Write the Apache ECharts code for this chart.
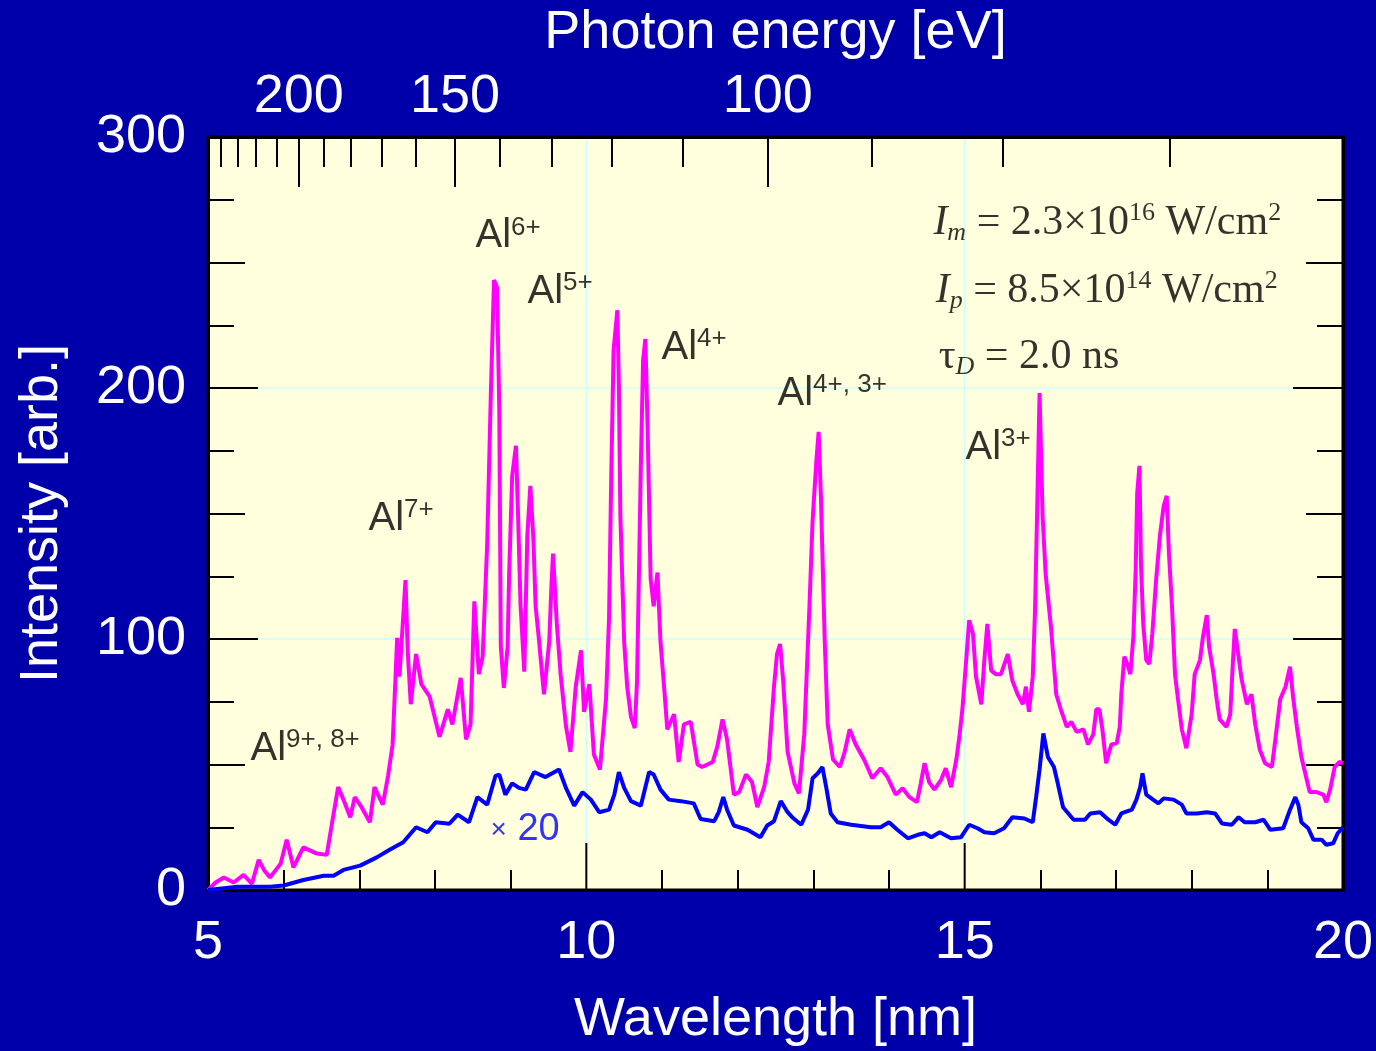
<!DOCTYPE html>
<html>
<head>
<meta charset="utf-8">
<title>Al spectrum</title>
<script src="https://cdn.jsdelivr.net/npm/echarts@6/dist/echarts.min.js"></script>
<style>
  html, body { margin: 0; padding: 0; background: #0000aa; }
  #main { width: 1376px; height: 1051px; }
</style>
</head>
<body>
<div id="main"></div>
<script>
// wavelength (nm) / intensity
const pinkWl = [5.00,5.10,5.21,5.34,5.47,5.58,5.67,5.74,5.82,5.96,6.04,6.13,6.26,6.44,6.57,6.63,6.72,6.79,6.88,6.94,
  7.03,7.14,7.20,7.31,7.38,7.44,7.47,7.50,7.53,7.57,7.61,7.64,7.68,7.75,7.82,7.93,8.06,8.17,8.23,8.34,
  8.41,8.47,8.52,8.58,8.63,8.69,8.74,8.78,8.82,8.85,8.87,8.91,8.96,8.98,9.02,9.07,9.10,9.13,9.18,9.22,
  9.26,9.30,9.33,9.37,9.44,9.51,9.54,9.56,9.61,9.66,9.73,9.79,9.86,9.93,9.97,10.04,10.10,10.18,10.26,10.30,
  10.33,10.36,10.41,10.43,10.45,10.50,10.54,10.59,10.64,10.67,10.72,10.75,10.78,10.81,10.85,10.89,10.94,10.98,11.03,11.07,
  11.16,11.22,11.29,11.38,11.47,11.53,11.67,11.73,11.80,11.86,11.95,12.02,12.11,12.19,12.26,12.35,12.41,12.48,12.52,12.56,
  12.60,12.66,12.75,12.81,12.88,12.95,12.99,13.04,13.07,13.10,13.15,13.19,13.26,13.35,13.41,13.48,13.56,13.67,13.78,13.89,
  13.98,14.09,14.18,14.27,14.37,14.42,14.47,14.53,14.60,14.69,14.75,14.82,14.89,14.93,14.97,15.02,15.06,15.11,15.15,15.22,
  15.26,15.30,15.35,15.41,15.48,15.57,15.63,15.70,15.77,15.81,15.85,15.90,15.93,15.96,15.99,16.03,16.07,16.14,16.21,16.27,
  16.35,16.41,16.48,16.57,16.63,16.70,16.74,16.78,16.82,16.87,16.90,16.94,17.01,17.05,17.07,17.11,17.15,17.19,17.23,17.26,
  17.28,17.31,17.33,17.36,17.40,17.44,17.48,17.53,17.58,17.63,17.67,17.70,17.74,17.78,17.82,17.87,17.93,18.00,18.04,18.11,
  18.15,18.20,18.23,18.29,18.33,18.37,18.46,18.51,18.54,18.57,18.62,18.66,18.73,18.79,18.84,18.90,18.97,19.06,19.10,19.17,
  19.24,19.30,19.34,19.39,19.45,19.52,19.56,19.65,19.74,19.78,19.83,19.89,19.95,20.00];
const pinkInt = [0,3,5,3,6,2.5,12,8,5,10.5,20,9,17,14.5,14,25,41,36,29,37,
  33,27,41,34,45.5,58,79,100.5,85,104,123.5,95,74,94,82,77,61,72,66,84.5,
  60,66,115,86,93,138,200,243,240,191,97,80.5,97,126,165,177,147,114,87,141,
  161,140,113,101,78,99,122,134,106,86,65.5,55,81,95.5,71,82,54,48,76,108,
  166,215,231,202,149,99,81,69,64.5,83,168,211,219.5,184,124,113,126.5,99,80,64,
  70,51,66,67,50,49,51,57,68,60,38,39,46,43,33,41,51,81,94,98,
  84,55,42.5,38.5,62,114,147,171,182.5,157,100,66,52,49,54.5,64,58,52,44.5,48.5,
  45,38,40.5,37,35,42.5,50.5,43,40,44,48.5,41,52,61,72,91.5,107.5,102,85,74,
  91.5,106,87.5,86,86,94,83.5,78,74,81,71,85,111.5,154,198,149,126,105,78,72,
  65,67,63,64,58,62,72,72,64,50.5,54,58,58.5,65,78,93,90,86,101,127.5,
  158,169,130,106,91.6,90,102,123.5,141,153,157,134,113,86,76,64,56.5,70,86,91.6,
  101,109.5,97,86,76,68,65,70,88,104,93,84,74,78,66,56,50.5,49,58.5,76,
  81,89,77,65,53,44,39,39,38,35,40,49,51,50.5];

// blue trace, drawn x20
const blueWl = [5.00,5.39,5.82,6.00,6.26,6.53,6.66,6.79,7.01,7.23,7.40,7.58,7.75,7.90,8.01,8.19,8.30,8.45,8.56,8.69,
  8.80,8.85,8.93,9.02,9.11,9.20,9.31,9.46,9.64,9.73,9.84,9.95,10.06,10.17,10.30,10.37,10.43,10.50,10.59,10.72,
  10.83,10.89,10.98,11.09,11.25,11.42,11.51,11.69,11.75,11.81,11.86,11.95,12.13,12.30,12.39,12.48,12.57,12.66,12.72,12.84,
  12.93,12.99,13.06,13.12,13.17,13.23,13.32,13.50,13.76,13.89,14.00,14.11,14.25,14.38,14.47,14.56,14.67,14.82,14.95,15.06,
  15.17,15.26,15.39,15.52,15.63,15.79,15.90,15.94,15.99,16.04,16.10,16.18,16.23,16.30,16.44,16.59,16.66,16.79,16.90,16.99,
  17.07,17.21,17.27,17.32,17.35,17.40,17.49,17.56,17.63,17.76,17.87,17.93,18.07,18.20,18.31,18.40,18.53,18.62,18.70,18.84,
  18.95,19.04,19.21,19.30,19.37,19.41,19.45,19.54,19.61,19.72,19.78,19.87,19.93,20.00];
const blueInt = [0,1.3,1.3,1.8,4,5.7,5.7,8,9.7,13,16,19,25,23,27,26.4,30,27,37,34,
  45.5,46,38,42.5,40.7,40,47,45,48,40.7,33.6,39,36,31,32,38,47,40.7,35.4,33.6,
  47,46,40,36,35.4,34.5,28.3,27.4,31,37,32,25.7,24,21,25.7,27.4,35.4,31,29,26,
  32,44.5,46.5,49,41,30.5,27,26,25,25,27,24,20.6,22,22.6,21,23,20.6,21,26,
  24.6,23,22.6,24.6,29,28.5,27,36,48,62.4,53,49,42.5,33,28,28,30.5,31,28,26,
  30.5,32,36,41,46.5,38,36,34.5,36.5,36,34,30.5,30.5,31,30.5,26.5,26,29,27,27,
  28,24,24.6,32,37,34,27,24.6,20,20,18,18.6,22.6,25];

// tick and gridline positions
const xMinorTicks = [6, 7, 8, 9, 11, 12, 13, 14, 16, 17, 18, 19];
const xMajorTicks = [10, 15];
const yMinorTicks = [25, 75, 125, 175, 225, 275];
const yMidTicks = [50, 150, 250];
const yMajorTicks = [100, 200];

// top axis: photon energy (eV)
const HC = 1239.84;
const energyMajor = [200, 150, 100];
const energyMinor = [240, 230, 220, 210, 190, 180, 170, 160, 140, 130, 120, 110, 90, 80, 70];

// peak labels: [wavelength, intensity, text]
const ionLabels = [
  [5.555, 56.2, '{a|Al}{s|9+, 8+}'],
  [7.114, 147.8, '{a|Al}{s|7+}'],
  [8.528, 260.4, '{a|Al}{s|6+}'],
  [9.216, 238.2, '{a|Al}{s|5+}'],
  [10.987, 216.1, '{a|Al}{s|4+}'],
  [12.52, 197.6, '{a|Al}{s|4+, 3+}'],
  [15.004, 176.1, '{a|Al}{s|3+}'],
  [8.727, 23.9, '{x|×}{n| 20}']
];
const paramLabels = [
  [14.58, 265.7, '{i|I}{sub|m}{t| = 2.3×10}{sup|16}{t| W/cm}{sup|2}'],
  [14.61, 238.6, '{i|I}{sub|p}{t| = 8.5×10}{sup|14}{t| W/cm}{sup|2}'],
  [14.65, 212.4, '{t|τ}{sub|D}{t| = 2.0 ns}']
];

const X_MIN = 5, X_MAX = 20, Y_MIN = 0, Y_MAX = 300;
const MAJOR_X_LEN = 47, MAJOR_Y_LEN = 50;

const toWl = e => HC / e;
const zip = (xs, ys) => xs.map((x, i) => [x, ys[i]]);

const sans = 'Liberation Sans, Arial, sans-serif';
const serif = 'Liberation Serif, Times New Roman, serif';
const black = { color: '#000', width: 2 };
const axisText = { color: '#fff', fontSize: 54, fontFamily: sans };
const frameLine = { show: true, onZero: false, lineStyle: { color: '#000', width: 3 } };
const noLine = { show: false, onZero: false };
const off = { show: false };

// an axis that only carries a set of inward ticks
const tickAxis = (position, min, max, values, length, extra) => Object.assign({
  type: 'value', position, min, max, z: 3,
  axisLine: noLine,
  axisTick: { show: true, inside: true, length, lineStyle: black, customValues: values },
  axisLabel: off, splitLine: off
}, extra || {});

const option = {
  backgroundColor: '#0000aa',
  animation: false,
  grid: {
    left: 208, right: 33, top: 137, bottom: 161,
    containLabel: false, outerBoundsMode: 'none',
    show: true, backgroundColor: '#ffffdd', borderColor: '#000', borderWidth: 3
  },
  xAxis: [
    tickAxis('bottom', X_MIN, X_MAX, xMinorTicks, 20, {
      interval: 5,
      axisLine: frameLine,
      axisLabel: Object.assign({ show: true, margin: 26 }, axisText),
      name: 'Wavelength [nm]', nameLocation: 'middle', nameGap: 103, nameMoveOverlap: false,
      nameTextStyle: axisText
    }),
    tickAxis('top', X_MIN, X_MAX, energyMajor.map(toWl), 50, {
      axisLine: frameLine,
      axisLabel: Object.assign({
        show: true, margin: 13, customValues: energyMajor.map(toWl),
        formatter: v => String(Math.round(HC / v))
      }, axisText),
      name: 'Photon energy [eV]', nameLocation: 'middle', nameGap: 77, nameMoveOverlap: false,
      nameTextStyle: axisText
    }),
    tickAxis('top', X_MIN, X_MAX, energyMinor.map(toWl), 30)
  ],
  yAxis: [
    tickAxis('left', Y_MIN, Y_MAX, yMinorTicks, 26, {
      interval: 100,
      axisLine: frameLine,
      axisLabel: Object.assign({ show: true, margin: 22 }, axisText),
      name: 'Intensity [arb.]', nameLocation: 'middle', nameGap: 139, nameRotate: 90, nameMoveOverlap: false,
      nameTextStyle: axisText
    }),
    tickAxis('left', Y_MIN, Y_MAX, yMidTicks, 37),
    tickAxis('right', Y_MIN, Y_MAX, yMinorTicks, 26, { axisLine: frameLine }),
    tickAxis('right', Y_MIN, Y_MAX, yMidTicks, 37)
  ],
  series: [
    {
      type: 'line', data: zip(pinkWl, pinkInt), showSymbol: false,
      lineStyle: { color: '#ff00ff', width: 4 }, z: 4
    },
    {
      type: 'line', data: zip(blueWl, blueInt), showSymbol: false,
      lineStyle: { color: '#0000ff', width: 4 }, z: 5
    },
    {
      type: 'scatter', silent: true, symbolSize: 1, itemStyle: { color: 'transparent' }, z: 6,
      data: ionLabels.map(d => ({ value: [d[0], d[1]], name: d[2] })),
      label: {
        show: true, position: 'right', distance: 0, formatter: '{b}', color: '#000',
        rich: {
          a: { fontFamily: sans, fontSize: 40, lineHeight: 44, color: '#000' },
          s: { fontFamily: sans, fontSize: 26, lineHeight: 28, verticalAlign: 'top', color: '#000' },
          x: { fontFamily: sans, fontSize: 28, lineHeight: 40, color: '#0000ff' },
          n: { fontFamily: sans, fontSize: 38, lineHeight: 40, color: '#0000ff' }
        }
      }
    },
    {
      type: 'scatter', silent: true, symbolSize: 1, itemStyle: { color: 'transparent' }, z: 6,
      data: paramLabels.map(d => ({ value: [d[0], d[1]], name: d[2] })),
      label: {
        show: true, position: 'right', distance: 0, formatter: '{b}', color: '#000',
        rich: {
          t: { fontFamily: serif, fontSize: 42, lineHeight: 46, color: '#000' },
          i: { fontFamily: serif, fontSize: 42, lineHeight: 46, fontStyle: 'italic', color: '#000' },
          sub: { fontFamily: serif, fontSize: 26, lineHeight: 10, fontStyle: 'italic', verticalAlign: 'bottom', color: '#000' },
          sup: { fontFamily: serif, fontSize: 26, lineHeight: 10, verticalAlign: 'top', color: '#000' }
        }
      }
    }
  ]
};

const chartDom = document.getElementById('main');
const myChart = echarts.init(chartDom);
myChart.setOption(option);

// gridlines and the long ticks, placed through the chart's own scales
const px = (x, y) => myChart.convertToPixel({ xAxisIndex: 0, yAxisIndex: 0 }, [x, y]);
const lineEl = (a, b, color, width, z) => ({
  type: 'line', silent: true, z,
  shape: { x1: a[0], y1: a[1], x2: b[0], y2: b[1] },
  style: { stroke: color, lineWidth: width }
});
const gridEls = [];
const tickEls = [];
xMajorTicks.forEach(v => {
  const b = px(v, Y_MIN), t = px(v, Y_MAX);
  gridEls.push(lineEl([b[0], b[1]], [t[0], t[1]], '#ccffff', 1.5, 1));
  tickEls.push(lineEl([b[0], b[1]], [b[0], b[1] - MAJOR_X_LEN], '#000', 2, 3));
});
yMajorTicks.forEach(v => {
  const l = px(X_MIN, v), r = px(X_MAX, v);
  gridEls.push(lineEl([l[0], l[1]], [r[0], r[1]], '#ccffff', 1.5, 1));
  tickEls.push(lineEl([l[0], l[1]], [l[0] + MAJOR_Y_LEN, l[1]], '#000', 2, 3));
  tickEls.push(lineEl([r[0], r[1]], [r[0] - MAJOR_Y_LEN, r[1]], '#000', 2, 3));
});
myChart.setOption({ graphic: { elements: gridEls.concat(tickEls) } });
</script>
</body>
</html>
